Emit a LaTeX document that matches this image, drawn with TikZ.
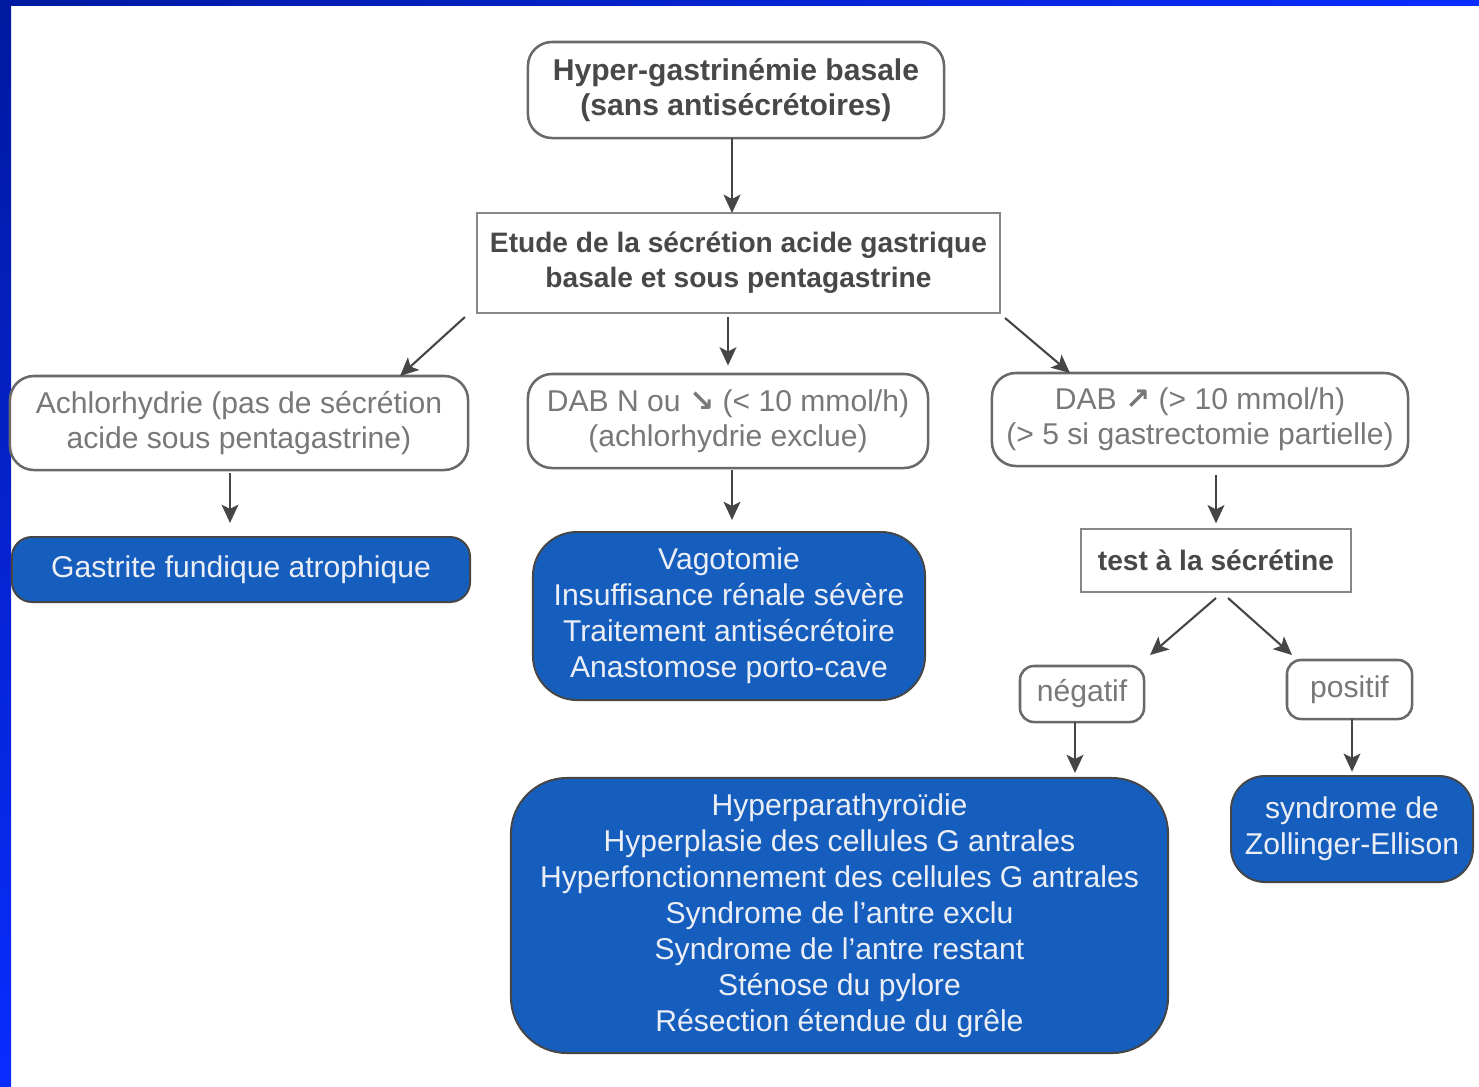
\documentclass[tikz,border=0pt]{standalone}
\usepackage{fontspec}
\setmainfont{Liberation Sans}
\newfontfamily\arrowfont{DejaVu Sans}
\usepackage{tikz}
\usetikzlibrary{arrows.meta, shapes}

\definecolor{framedark}{RGB}{0,26,160}
\definecolor{framelight}{RGB}{10,44,255}
\definecolor{boxblue}{RGB}{22,94,190}
\definecolor{boxline}{RGB}{105,105,105}
\definecolor{softtext}{RGB}{120,120,120}
\definecolor{boldtext}{RGB}{72,72,72}
\definecolor{paletext}{RGB}{236,238,246}
\definecolor{arrowgray}{RGB}{70,70,70}

\begin{document}
\begin{tikzpicture}[x=0.025cm,y=-0.025cm,
    font=\fontsize{21.4pt}{25pt}\selectfont]
        \useasboundingbox (0,0) rectangle (1479,1086);
        % blue frame
        \fill[top color=framedark, bottom color=framelight] (0,0) rectangle (11,1086);
        \fill[left color=framedark, right color=framelight] (0,0) rectangle (1479,5);

        % white boxes
        \begin{scope}[every node/.style={draw=boxline,line width=1.8pt,fill=white,
            rounded corners=0.6cm,inner sep=0pt,outer sep=0pt,align=center,text=softtext}]
          \node[minimum width=10.4cm,minimum height=2.4cm,text=boldtext,font=\fontsize{21.4pt}{25pt}\selectfont\bfseries]
            (hyper) at (736,90) {Hyper-gastrinémie basale\\(sans antisécrétoires)};
          \node[minimum width=11.45cm,minimum height=2.35cm] (achlor) at (239,423)
            {Achlorhydrie (pas de sécrétion\\acide sous pentagastrine)};
          \node[minimum width=10cm,minimum height=2.35cm] (dabn) at (728,421)
            {DAB N ou {\arrowfont\bfseries ↘} (< 10 mmol/h)\\(achlorhydrie exclue)};
          \node[minimum width=10.4cm,minimum height=2.325cm] (dabp) at (1200,419.5)
            {DAB {\arrowfont\bfseries ↗} (> 10 mmol/h)\\(> 5 si gastrectomie partielle)};
          \node[minimum width=3.1cm,minimum height=1.4cm,rounded corners=0.35cm] (neg) at (1082,694) {négatif};
          \node[minimum width=3.125cm,minimum height=1.475cm,rounded corners=0.35cm] (pos) at (1349.5,689.5) {positif};
        \end{scope}

        % square boxes
        \begin{scope}[every node/.style={draw=boxline!80,line width=1.8pt,fill=white,
            inner sep=0pt,outer sep=0pt,align=center,text=boldtext,
            font=\fontsize{20pt}{25pt}\selectfont\bfseries}]
          \node[minimum width=13.075cm,minimum height=2.5cm] (etude) at (738.5,263)
            {Etude de la sécrétion acide gastrique\\basale et sous pentagastrine};
          \node[minimum width=6.75cm,minimum height=1.575cm] (test) at (1216,560.5) {test à la sécrétine};
        \end{scope}

        % blue boxes
        \begin{scope}[every node/.style={draw=arrowgray,line width=1.4pt,fill=boxblue,
            inner sep=0pt,outer sep=0pt,align=center,text=paletext,
            font=\fontsize{21.4pt}{25.6pt}\selectfont}]
          \node[minimum width=11.45cm,minimum height=1.625cm,rounded corners=0.5cm] (gastrite) at (241,569.5)
            {Gastrite fundique atrophique};
          \node[minimum width=9.8cm,minimum height=4.2cm,rounded corners=1.1cm] (vago) at (729,616)
            {Vagotomie\\Insuffisance rénale sévère\\Traitement antisécrétoire\\Anastomose porto-cave};
          \node[minimum width=16.425cm,minimum height=6.875cm,rounded corners=1.4cm] (hyperpara) at (839.5,915.5)
            {Hyperparathyroïdie\\Hyperplasie des cellules G antrales\\Hyperfonctionnement des cellules G antrales\\
             Syndrome de l’antre exclu\\Syndrome de l’antre restant\\Sténose du pylore\\Résection étendue du grêle};
          \node[minimum width=6.05cm,minimum height=2.65cm,rounded corners=0.85cm] (zes) at (1352,829)
            {syndrome de\\Zollinger-Ellison};
        \end{scope}

        % arrows
        \begin{scope}[every edge/.style={draw=arrowgray,line width=1.5pt,
            -{Stealth[length=13pt,width=12pt,inset=3pt]}}]
          \path ([xshift=-0.1cm]hyper.south) edge ([xshift=-0.1cm]hyper.south |- etude.north);
          \path ([xshift=-0.3cm,yshift=-0.1cm]etude.south west) edge ([xshift=-1.7cm]achlor.north east);
          \path ([yshift=-0.1cm]etude.south -| dabn.north) edge[shorten >=6pt] (dabn.north);
          \path ([xshift=0.125cm,yshift=-0.125cm]etude.south east) edge ([xshift=1.95cm]dabp.north west);
          \path ([xshift=-0.225cm,yshift=-0.075cm]achlor.south) edge[shorten >=10pt] ([xshift=-0.225cm]achlor.south |- gastrite.north);
          \path ([xshift=0.1cm,yshift=-0.05cm]dabn.south) edge[shorten >=8.5pt] ([xshift=0.1cm]dabn.south |- vago.north);
          \path ([yshift=-0.225cm]test.north |- dabp.south) edge[shorten >=4pt] (test.north);
          \path ([yshift=-0.15cm]test.south) edge ([xshift=0.15cm,yshift=0.275cm]neg.north east);
          \path ([xshift=0.3cm,yshift=-0.15cm]test.south) edge ([xshift=0.125cm,yshift=0.125cm]pos.north west);
          \path ([xshift=-0.175cm]neg.south) edge[shorten >=3.5pt] ([xshift=-0.175cm]neg.south |- hyperpara.north);
          \path ([xshift=0.0625cm]pos.south) edge[shorten >=3pt] ([xshift=0.0625cm]pos.south |- zes.north);
        \end{scope}
\end{tikzpicture}
\end{document}
